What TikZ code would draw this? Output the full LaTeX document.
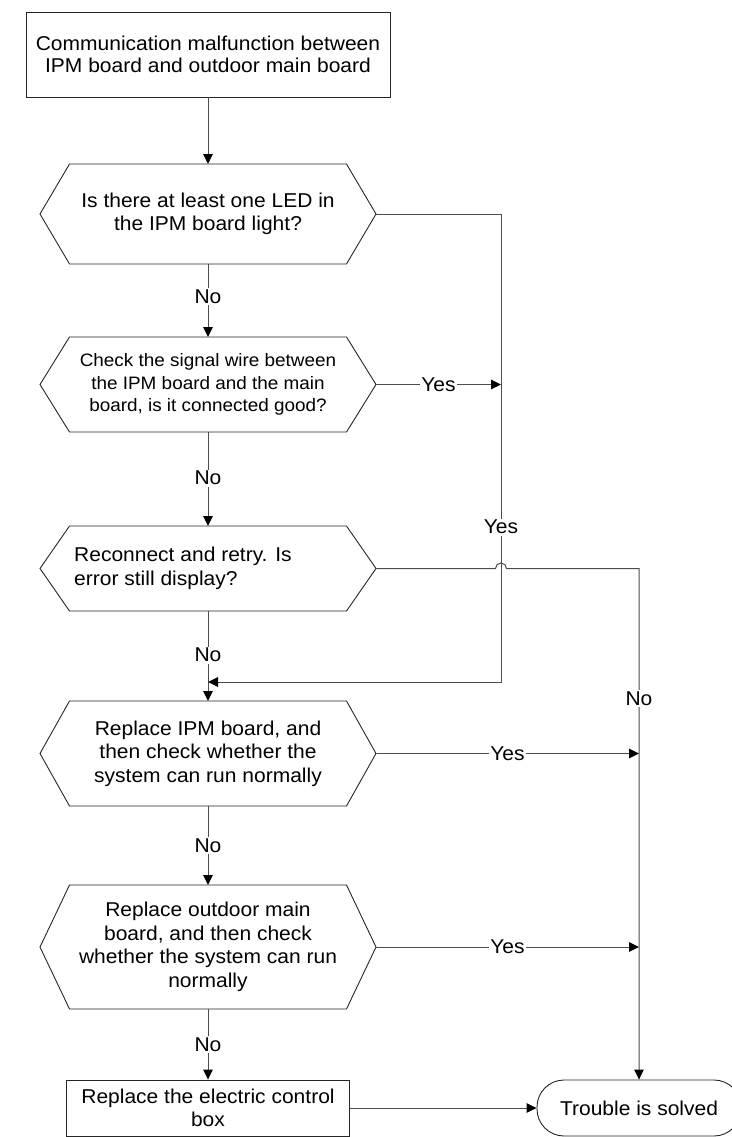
\documentclass[tikz,border=0pt]{standalone}
\usepackage{fontspec}
\setmainfont{Liberation Sans}[FakeStretch=1.05]
\usetikzlibrary{arrows.meta}
\newcommand\mainsz{\fontsize{20}{23.5}\selectfont}
\newcommand\smallsz{\fontsize{18}{22.7}\selectfont}
\newcommand\hexnode[5][]{%
  \path ({40},{#3}) coordinate (#2w) ({376},{#3}) coordinate (#2e)
        ({208},{#3-#4}) coordinate (#2n) ({208},{#3+#4}) coordinate (#2s);
  \draw[shp] (#2w) -- ({69.5},{#3-#4}) -- ({346.5},{#3-#4}) -- (#2e)
        -- ({346.5},{#3+#4}) -- ({69.5},{#3+#4}) -- cycle;
  \node[txt,#1] (#2) at ({208},{#3}) {#5};
}
\tikzset{
  shp/.style={draw=black!85, line width=0.9pt},
  boxnode/.style={shp, rectangle, align=center, inner sep=2pt, font=\mainsz},
  txt/.style={align=center, inner sep=0pt, font=\mainsz},
  conn/.style={draw=black!70, line width=1pt},
  arr/.style={conn, -{Triangle[length=10pt,width=9.5pt,color=black]}},
  lbl/.style={fill=white, inner sep=1.5pt, font=\mainsz, text=black},
}
\begin{document}
\begin{tikzpicture}[x=1pt,y=-1pt]
\useasboundingbox (0,0) rectangle (731,1137);
% nodes
\node[boxnode, minimum width=364pt, minimum height=85pt, font=\fontsize{20}{22}\selectfont] (top) at (208,54.5)
  {Communication malfunction between\\IPM board and outdoor main board};
\hexnode{h1}{214}{50}{Is there at least one LED in\\the IPM board light?}
\hexnode[font=\smallsz]{h2}{384.5}{47.5}{Check the signal wire between\\the IPM board and the main\\board, is it connected good?}
\hexnode[anchor=west, align=left, xshift=-134pt]{h3}{568.5}{42.5}{Reconnect and retry. Is\\error still display?}
\hexnode{h4}{753.5}{52.5}{Replace IPM board, and\\then check whether the\\system can run normally}
\hexnode{h5}{947}{62}{Replace outdoor main\\board, and then check\\whether the system can run\\normally}
\node[boxnode, minimum width=283pt, minimum height=56pt] (bx) at (208,1108)
  {Replace the electric control\\box};
\node[shp, rounded corners=27pt, minimum width=204pt, minimum height=56pt, font=\mainsz] (ts) at (639,1108)
  {Trouble is solved};
% helper coordinates
\coordinate (ja) at (501,214);
\coordinate (jb) at (501,682);
\coordinate (jc) at (208,682);
\coordinate (hopL) at (495.5,568.5);
\coordinate (kc) at (639,568.5);
% connectors
\draw[arr] (top) -- (h1n);
\draw[arr] (h1s) -- node[lbl,pos=0.45]{No} (h2n);
\draw[arr] (h2s) -- node[lbl,pos=0.49]{No} (h3n);
\draw[arr] (h3s) -- node[lbl,pos=0.49]{No} (h4n);
\draw[arr] (h4s) -- node[lbl,pos=0.5]{No} (h5n);
\draw[arr] (h5s) -- node[lbl,pos=0.5]{No} (bx);
\draw[arr] (h1e) -- (ja) -- node[lbl,pos=0.669]{Yes} (jb) -- (jc);
\draw[arr] (h2e) -- node[lbl]{Yes} (h2e -| ja);
\draw[arr] (h3e) -- (hopL) arc[start angle=180,end angle=0,radius=5.5pt] -- (kc) -- node[lbl,pos=0.255]{No} (ts.north);
\draw[arr] (h4e) -- node[lbl]{Yes} (h4e -| kc);
\draw[arr] (h5e) -- node[lbl]{Yes} (h5e -| kc);
\draw[arr] (bx) -- (ts);
\end{tikzpicture}
\end{document}
